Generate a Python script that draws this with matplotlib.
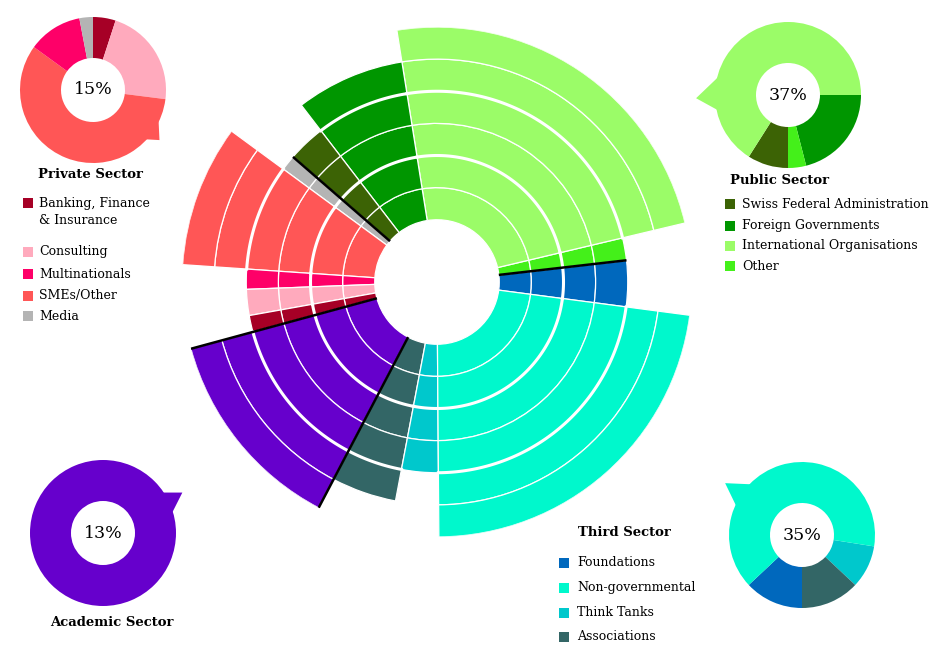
import numpy as np
import matplotlib.pyplot as plt
from matplotlib.patches import Polygon

plt.rcParams['font.family'] = ['DejaVu Serif']

# central chart: share of all partners (%), counter-clockwise from the east,
# and how many rings (steps) each sub-sector reaches
sub_names = ["Foundations", "Other", "International Organisations", "Foreign Governments",
             "Swiss Federal Administration", "Media", "SMEs/Other", "Multinationals",
             "Consulting", "Banking, Finance & Insurance", "Academic", "Associations",
             "Think Tanks", "Non-governmental"]
sub_sector = ["Third", "Public", "Public", "Public", "Public", "Private", "Private",
              "Private", "Private", "Private", "Academic", "Third", "Third", "Third"]
sub_share = [3.9, 1.9, 23.8, 7.9, 3.2, 1.3, 9.0, 1.7, 2.2, 1.4, 13.1, 4.7, 3.1, 22.8]
sub_rings = [4, 4, 6, 5, 4, 4, 6, 4, 4, 4, 6, 5, 4, 6]
start_deg = -7.5

colors = {
    "Foundations": "#0068bd",
    "Other": "#44f01a",
    "International Organisations": "#9bfc68",
    "Foreign Governments": "#009600",
    "Swiss Federal Administration": "#3c6305",
    "Media": "#b4b4b4",
    "SMEs/Other": "#ff5656",
    "Multinationals": "#fe0068",
    "Consulting": "#ffaabd",
    "Banking, Finance & Insurance": "#a60026",
    "Academic": "#6600cc",
    "Associations": "#336666",
    "Think Tanks": "#00c8cc",
    "Non-governmental": "#00f8cc",
}

# corner donuts: share within each sector, clockwise from start angle
private_names = ["Banking, Finance & Insurance", "Consulting", "SMEs/Other", "Multinationals", "Media"]
private_vals = [5, 22, 58, 12, 3]
public_names = ["Foreign Governments", "Other", "Swiss Federal Administration", "International Organisations"]
public_vals = [21, 4, 9, 66]
third_names = ["Think Tanks", "Associations", "Foundations", "Non-governmental"]
third_vals = [9.5, 13, 13, 64.5]
academic_names = ["Academic"]
academic_vals = [100]
sector_pct = {"Private": "15%", "Public": "37%", "Academic": "13%", "Third": "35%"}

# legend labels
private_legend = ["Banking, Finance\n& Insurance", "Consulting", "Multinationals", "SMEs/Other", "Media"]
private_legend_keys = ["Banking, Finance & Insurance", "Consulting", "Multinationals", "SMEs/Other", "Media"]
public_legend = ["Swiss Federal Administration", "Foreign Governments", "International Organisations", "Other"]
third_legend = ["Foundations", "Non-governmental", "Think Tanks", "Associations"]

W, H = 945, 658
fig = plt.figure(figsize=(W / 100, H / 100), dpi=100)

# ---- central polar chart
cx, cy, R = 437, 282, 255
ax = fig.add_axes([(cx - R) / W, (H - cy - R) / H, 2 * R / W, 2 * R / H], projection='polar')
r0 = 62 / 32
ax.set_ylim(0, r0 + 6)
ax.set_axis_off()

share = np.array(sub_share) / sum(sub_share)
widths = share * 2 * np.pi
starts = np.radians(start_deg) + np.concatenate([[0], np.cumsum(widths)[:-1]])

for name, st, w, n in zip(sub_names, starts, widths, sub_rings):
    for k in range(n):
        ax.bar(st, 1, width=w, bottom=r0 + k, align='edge', color=colors[name],
               edgecolor='white', linewidth=0.9)
    for k in (2, 4):
        if n > k:
            th = np.linspace(st, st + w, 80)
            ax.plot(th, np.full_like(th, r0 + k), color='white', lw=2.2)

for i in range(len(sub_names)):
    if sub_sector[i] != sub_sector[i - 1]:
        top = r0 + max(sub_rings[i], sub_rings[i - 1])
        ax.plot([starts[i], starts[i]], [r0, top], color='black', lw=1.8,
                solid_capstyle='butt', zorder=5)


# ---- donuts
def donut(dx, dy, names, vals, start, tail, label):
    s = 1.35
    size = 2 * s * 73
    a = fig.add_axes([(dx - size / 2) / W, (H - dy - size / 2) / H, size / W, size / H])
    a.pie(vals, colors=[colors[n] for n in names], startangle=start, counterclock=False,
          radius=1, wedgeprops=dict(width=1 - 32 / 73, linewidth=0))
    a.set_xlim(-s, s)
    a.set_ylim(-s, s)
    base1, base2, tip, tip_r = tail
    cw = (start - tip) % 360
    edges = np.cumsum(np.array(vals) / sum(vals) * 360)
    tail_color = colors[names[int(np.searchsorted(edges, cw))]]
    pts = [(0.9 * np.cos(np.radians(base1)), 0.9 * np.sin(np.radians(base1))),
           (tip_r * np.cos(np.radians(tip)), tip_r * np.sin(np.radians(tip))),
           (0.9 * np.cos(np.radians(base2)), 0.9 * np.sin(np.radians(base2)))]
    a.add_patch(Polygon(pts, closed=True, color=tail_color, lw=0, zorder=0.5))
    a.text(0, 0, label, ha='center', va='center', fontsize=12.5)


donut(93, 90, private_names, private_vals, 90, (-10, -48, -37, 1.14), sector_pct["Private"])
donut(788, 95, public_names, public_vals, 0, (155, 197, 182, 1.26), sector_pct["Public"])
donut(103, 533, academic_names, academic_vals, 90, (10, 38, 27, 1.22), sector_pct["Academic"])
donut(802, 535, third_names, third_vals, -9, (130, 161, 146, 1.27), sector_pct["Third"])

# ---- titles and legends
at = fig.add_axes([0, 0, 1, 1], zorder=10)
at.set_xlim(0, W)
at.set_ylim(H, 0)
at.set_axis_off()

at.text(90, 175, "Private Sector", ha='center', va='center', fontsize=9.5, fontweight='bold')
at.text(780, 181, "Public Sector", ha='center', va='center', fontsize=9.5, fontweight='bold')
at.text(624, 532, "Third Sector", ha='center', va='center', fontsize=9.5, fontweight='bold')
at.text(112, 623, "Academic Sector", ha='center', va='center', fontsize=9.5, fontweight='bold')


def legend(labels, keys, ys, sq_x, txt_x):
    for lab, key, y in zip(labels, keys, ys):
        at.scatter(sq_x, y, marker='s', s=62, color=colors[key], linewidths=0)
        for j, line in enumerate(lab.split("\n")):
            at.text(txt_x, y + j * 18, line, ha='left', va='center', fontsize=9)


legend(private_legend, private_legend_keys, [203, 252, 274, 296, 316], 28, 39)
legend(public_legend, public_legend, [204, 226, 246, 266], 730, 742)
legend(third_legend, third_legend, [563, 588, 613, 637], 564, 577)

fig.savefig("out.png", dpi=100)
